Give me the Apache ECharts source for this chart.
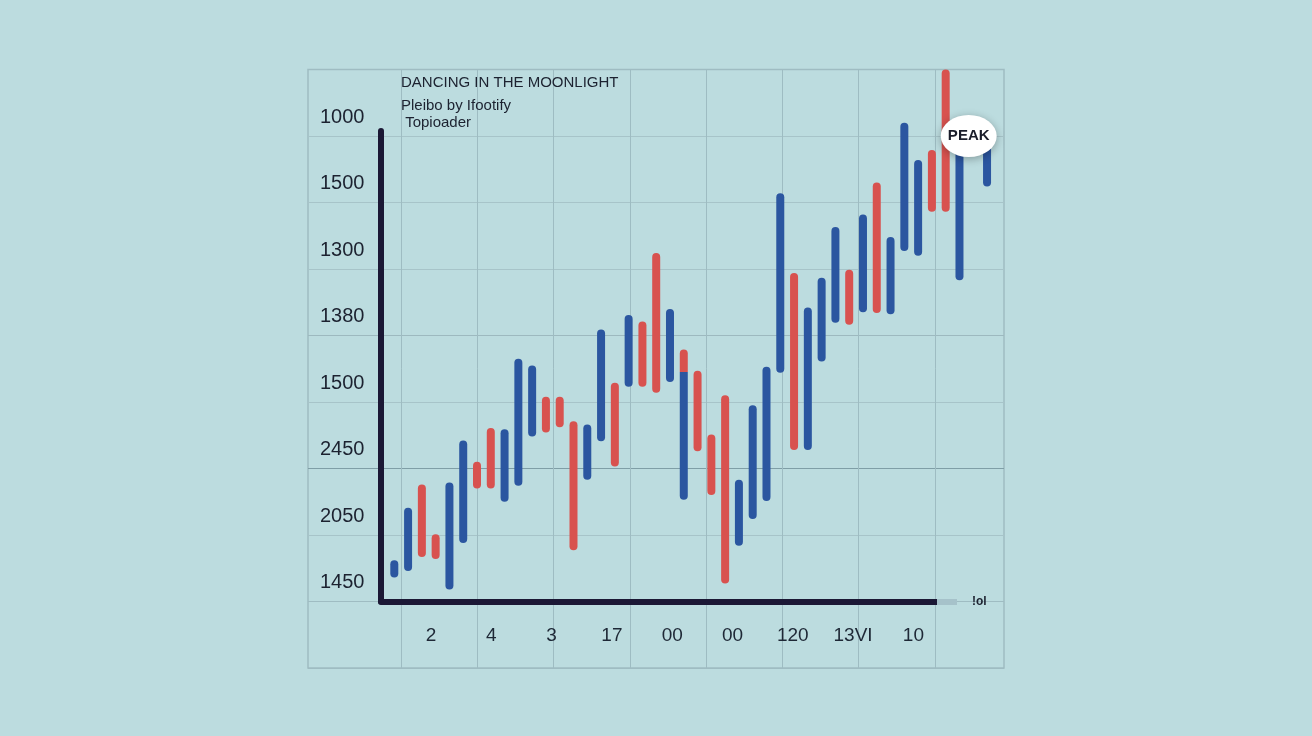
<!DOCTYPE html>
<html>
<head>
<meta charset="utf-8">
<script src="https://cdn.jsdelivr.net/npm/echarts@6/dist/echarts.min.js"></script>
<style>
html,body{margin:0;padding:0;background:#bcdcdf;}
#chart{width:1312px;height:736px;}
</style>
</head>
<body>
<div id="chart"></div>
<script>
// ---- data ----
const chartTitle = 'DANCING IN THE MOONLIGHT';
const chartSubtitle = 'Pleibo by Ifootify\n Topioader';
const yTickLabels = ['1450', '2050', '2450', '1500', '1380', '1300', '1500', '1000']; // gridline 0..7, bottom to top
const xTickLabels = ['2', '4', '3', '17', '00', '00', '120', '13VI', '10'];
const extraAxisName = '!ol';
// one entry per slot (null = empty slot); 1 = red, 0 = blue
const barLow  = [0.36,0.46,0.67,0.64,0.18,0.88,1.70,1.70,1.50,1.74,2.48,2.54,2.62,0.77,1.83,2.41,2.03,3.23,3.23,3.14,3.30,1.53,2.26,1.60,0.27,0.84,1.24,1.51,3.44,2.28,2.28,3.61,4.19,4.16,4.35,4.34,4.32,5.27,5.20,5.86,5.86,4.83,null,6.24];
const barHigh = [0.62,1.41,1.76,1.01,1.79,2.42,2.10,2.61,2.59,3.65,3.55,3.08,3.08,2.71,2.66,4.09,3.29,4.31,4.21,5.24,4.40,3.45,3.47,2.51,3.10,1.83,2.95,3.53,6.14,4.94,4.42,4.87,5.63,4.99,5.82,6.30,5.48,7.20,6.64,6.79,8.00,6.79,null,6.87];
const barRed  = [0,0,1,1,0,0,1,1,0,0,0,1,1,1,0,0,1,0,1,1,0,0,1,1,1,0,0,0,0,1,0,0,0,1,0,1,0,0,0,1,1,0,null,0];
// two-tone bar: red cap sitting on top of a blue bar
const capSlot = [21];
const capLow  = [3.45];
const capHigh = [3.79];
const capRed  = [1];
const peakLabel = 'PEAK';
const peakCoord = [41.67, 7.0];

const BLUE = '#2b56a0', RED = '#d8524f', DARK = '#1b1835';

const barData = [];
barLow.forEach((lo, i) => {
  if (lo == null) return;
  const hasCap = capSlot.indexOf(i) >= 0;
  barData.push([i, lo, barHigh[i], barRed[i], hasCap ? 0 : 1, 1]);
});
capSlot.forEach((s, k) => barData.push([s, capLow[k], capHigh[k], capRed[k], 1, 0]));

const chart = echarts.init(document.getElementById('chart'), null, {renderer: 'canvas'});
const font = 'Liberation Sans, Arial, sans-serif';

const option = {
  animation: false,
  backgroundColor: '#bcdcdf',
  title: {
    text: chartTitle,
    subtext: chartSubtitle,
    left: 401, top: 75, padding: 0, itemGap: 6,
    textStyle: {fontFamily: font, fontSize: 15, fontWeight: 'normal', color: '#1c2230', lineHeight: 16},
    subtextStyle: {fontFamily: font, fontSize: 15, color: '#1c2230', lineHeight: 17.5}
  },
  grid: [
    {left: 308, top: 69.5, width: 696, height: 598.5, show: true, borderColor: '#9fbcc2', borderWidth: 1.5, backgroundColor: 'transparent'},
    {left: 401, top: 69.5, width: 534, height: 598.5},
    {left: 381, top: 131, width: 556, height: 470.5},
    {left: 937, top: 131, width: 20, height: 470.5},
    {left: 400.85, top: 131, width: 542.7, height: 470.5}
  ],
  xAxis: [
    {gridIndex: 0, type: 'value', min: -6.26, max: 44.23, show: false},
    {gridIndex: 1, type: 'value', min: 0, max: 7, interval: 1,
      axisLine: {show: false}, axisTick: {show: false}, axisLabel: {show: false},
      splitLine: {show: true, lineStyle: {color: '#9ebcc2', width: 1}}},
    {gridIndex: 2, type: 'value', min: 0, max: 1,
      axisLine: {show: true, onZero: false, lineStyle: {color: DARK, width: 6, cap: 'round'}},
      axisTick: {show: false}, axisLabel: {show: false}, splitLine: {show: false}},
    {gridIndex: 3, type: 'value', min: 0, max: 1,
      name: extraAxisName, nameLocation: 'end', nameGap: 15,
      nameTextStyle: {fontFamily: font, fontSize: 12, fontWeight: 'bold', color: '#1c2230', verticalAlign: 'middle', padding: [4, 0, 0, 0]},
      axisLine: {show: true, onZero: false, lineStyle: {color: '#a6c2ca', width: 6, cap: 'butt'}},
      axisTick: {show: false}, axisLabel: {show: false}, splitLine: {show: false}},
    {gridIndex: 4, type: 'category', data: xTickLabels,
      axisLine: {show: false}, axisTick: {show: false}, splitLine: {show: false},
      axisLabel: {margin: 25, fontFamily: font, fontSize: 19, color: '#1e2836'}}
  ],
  yAxis: [
    {gridIndex: 0, type: 'value', min: -1, max: 8, interval: 1,
      axisLine: {show: false}, axisTick: {show: false},
      axisLabel: {inside: true, margin: 12, fontFamily: font, fontSize: 20, color: '#1c2230',
        verticalAlign: 'bottom', lineHeight: 38,
        formatter: v => (v >= 0 && v < yTickLabels.length) ? yTickLabels[v] : ''},
      splitLine: {show: true, lineStyle: {width: 1,
        color: ['#9fbcc2', '#9fbcc2', '#a7c4c9', '#7f9ea6', '#a7c4c9', '#9db9bf', '#a7c4c9', '#a7c4c9', '#a7c4c9', '#9fbcc2']}}},
    {gridIndex: 1, type: 'value', show: false},
    {gridIndex: 2, type: 'value', min: 0, max: 1,
      axisLine: {show: true, onZero: false, lineStyle: {color: DARK, width: 6, cap: 'round'}},
      axisTick: {show: false}, axisLabel: {show: false}, splitLine: {show: false}},
    {gridIndex: 3, type: 'value', show: false},
    {gridIndex: 4, type: 'value', show: false}
  ],
  series: [{
    type: 'custom',
    xAxisIndex: 0, yAxisIndex: 0,
    clip: false,
    encode: {x: 0, y: [1, 2]},
    data: barData,
    renderItem: function (params, api) {
      const x = api.value(0), lo = api.value(1), hi = api.value(2);
      const red = api.value(3), rt = api.value(4), rb = api.value(5);
      const p1 = api.coord([x, hi]), p2 = api.coord([x, lo]);
      const w = 8, r = 4;
      return {
        type: 'rect',
        shape: {x: p1[0] - w / 2, y: p1[1], width: w, height: p2[1] - p1[1],
          r: [rt ? r : 0, rt ? r : 0, rb ? r : 0, rb ? r : 0]},
        style: {fill: red ? RED : BLUE}
      };
    },
    markPoint: {
      symbol: 'circle',
      symbolSize: [56, 42],
      data: [{coord: peakCoord, value: peakLabel}],
      itemStyle: {color: '#ffffff', shadowBlur: 8, shadowColor: 'rgba(0,0,0,0.3)', shadowOffsetY: 2},
      label: {show: true, position: 'inside', formatter: peakLabel,
        fontFamily: font, fontSize: 15, fontWeight: 'bold', color: '#1a1d2a'}
    }
  }]
};
chart.setOption(option);
</script>
</body>
</html>
